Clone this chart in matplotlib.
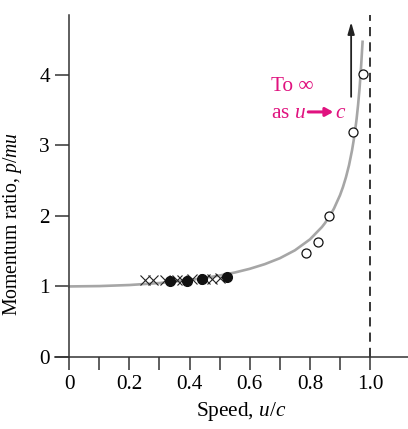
import matplotlib

matplotlib.use("Agg")
import matplotlib.pyplot as plt

# theory curve (u/c, p/mu)
curve_u = [0, 0.1, 0.2, 0.3, 0.4, 0.45, 0.5, 0.55, 0.6, 0.65, 0.7, 0.75, 0.8,
           0.84, 0.85, 0.87, 0.88, 0.9, 0.91, 0.92, 0.93, 0.94, 0.945, 0.95,
           0.955, 0.96, 0.965, 0.97, 0.975]
curve_p = [1.00, 1.005, 1.02, 1.048, 1.091, 1.120, 1.155, 1.197, 1.25, 1.316,
           1.40, 1.512, 1.667, 1.843, 1.898, 2.028, 2.105, 2.294, 2.412, 2.552,
           2.720, 2.931, 3.060, 3.203, 3.370, 3.571, 3.810, 4.113, 4.47]

# measurements
cross_u = [0.252, 0.279, 0.319, 0.359, 0.375, 0.409, 0.452, 0.475, 0.502]
cross_p = [1.09, 1.09, 1.09, 1.09, 1.09, 1.10, 1.10, 1.11, 1.12]
filled_u = [0.336, 0.392, 0.441, 0.525]
filled_p = [1.08, 1.08, 1.10, 1.13]
open_u = [0.787, 0.827, 0.864, 0.944, 0.977]
open_p = [1.48, 1.63, 2.00, 3.19, 4.01]

x_major = [0, 0.2, 0.4, 0.6, 0.8, 1.0]
x_major_labels = ["0", "0.2", "0.4", "0.6", "0.8", "1.0"]
x_minor = [0.1, 0.3, 0.5, 0.7, 0.9]
y_major = [0, 1, 2, 3, 4]

plt.rcParams["font.family"] = ["Liberation Serif", "DejaVu Sans"]
plt.rcParams["mathtext.fontset"] = "custom"
plt.rcParams["mathtext.rm"] = "Liberation Serif"
plt.rcParams["mathtext.it"] = "Liberation Serif:italic"

axis_color = "#333333"
magenta = "#e0127f"
fs = 15.3

fig = plt.figure(figsize=(4.08, 4.29), dpi=100)
ax = fig.add_axes([0.135, 0.168, 0.865, 0.797])

ax.plot(curve_u, curve_p, color="#a6a6a6", lw=1.9, zorder=2)
ax.axvline(1.0, color="black", lw=1.1, ls=(0, (6, 4)), zorder=1)

ax.plot(cross_u, cross_p, ls="none", marker="x", ms=7.5, mew=0.8,
        color="#222222", zorder=3)
ax.plot(filled_u, filled_p, ls="none", marker="o", ms=7, color="#111111",
        zorder=4)
ax.plot(open_u, open_p, ls="none", marker="o", ms=6.5, mfc="white",
        mec="#111111", mew=0.9, zorder=4)

ax.annotate("", xy=(0.937, 4.79), xytext=(0.937, 3.65),
            arrowprops=dict(arrowstyle="-|>,head_length=0.7,head_width=0.2",
                            color="#222222", lw=1.3))

ax.set_xlim(-0.047, 1.126)
ax.set_ylim(0, 4.85)

label_x, label_y = 0.672, 3.39
ax.text(label_x, 3.84, "To ∞", color=magenta, fontsize=fs, va="center")
as_text = ax.text(label_x, label_y, "as $u$", color=magenta, fontsize=fs,
                  va="baseline")

# put the arrow and the "c" right after "as u"
fig.canvas.draw()
right_px = as_text.get_window_extent().x1
base_px = ax.transData.transform((label_x, label_y))[1]
to_data = ax.transData.inverted()
arrow_x0, arrow_y = to_data.transform((right_px + 2, base_px + 6))
arrow_x1, _ = to_data.transform((right_px + 27, base_px + 6))
c_x, _ = to_data.transform((right_px + 29, base_px))
ax.annotate("", xy=(arrow_x1, arrow_y), xytext=(arrow_x0, arrow_y),
            arrowprops=dict(arrowstyle="-|>,head_length=0.45,head_width=0.25",
                            color=magenta, lw=2.2, shrinkA=0, shrinkB=0))
ax.text(c_x, label_y, "$c$", color=magenta, fontsize=fs, va="baseline")

for side in ["top", "right"]:
    ax.spines[side].set_visible(False)
ax.spines["left"].set_position(("data", 0))
for side in ["left", "bottom"]:
    ax.spines[side].set_color(axis_color)
    ax.spines[side].set_linewidth(1.1)

ax.set_xticks(x_major)
ax.set_xticklabels(x_major_labels)
ax.set_xticks(x_minor, minor=True)
ax.set_yticks(y_major)
ax.tick_params(axis="x", which="both", direction="out", length=9, width=1.1,
               color=axis_color, labelsize=fs, pad=4)
ax.tick_params(axis="y", direction="out", length=10, width=1.1,
               color=axis_color, labelsize=fs, pad=4)

ax.set_xlabel("Speed, $u/c$", fontsize=fs)
ax.set_ylabel("Momentum ratio, $p/mu$", fontsize=14.2)
ax.xaxis.set_label_coords(0.527, -0.125)
ax.yaxis.set_label_coords(-0.088, 0.39)

fig.savefig("out.png", dpi=100)
